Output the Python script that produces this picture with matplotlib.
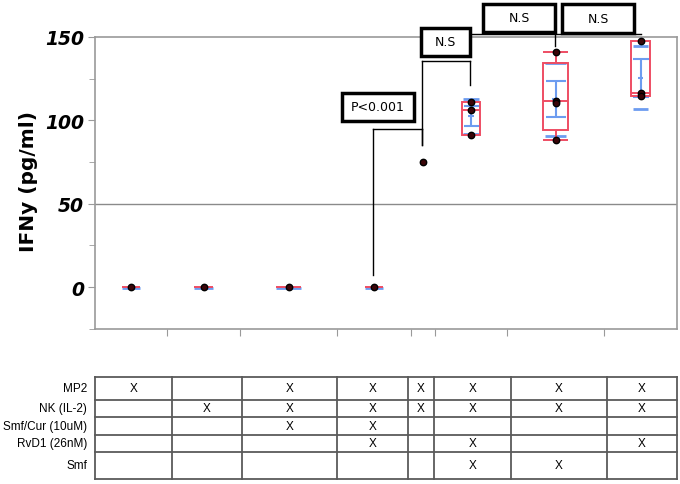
import matplotlib
matplotlib.use("Agg")
import matplotlib.pyplot as plt
from matplotlib.patches import Rectangle
import numpy as np

# ---- data ----
points = [[0], [0], [0], [0], [75],
          [111.2, 106.0, 91.4],
          [141.2, 111.6, 110.4, 88.2],
          [147.8, 116.4, 114.4]]
box_lo = [0, 0, 0, 0, 75, 91.4, 94.4, 114.4]
box_med = [0, 0, 0, 0, 75, 106.0, 111.6, 116.4]
box_hi = [0, 0, 0, 0, 75, 111.0, 134.2, 147.8]
whisk_lo = [None, None, None, None, None, None, 88.2, None]
whisk_hi = [None, None, None, None, None, None, 141.2, None]
means = [0, 0, 0, 0, 75, 102.6, 112.6, 125.6]
sds = [0, 0, 0, 0, 0, 10.5, 22.0, 18.8]
sems = [0, 0, 0, 0, 0, 6.1, 10.8, 11.3]

row_labels = ["MP2", "NK (IL-2)", "Smf/Cur (10uM)", "RvD1 (26nM)", "Smf"]
marks = [[1, 0, 1, 1, 1, 1, 1, 1],
         [0, 1, 1, 1, 1, 1, 1, 1],
         [0, 0, 1, 1, 0, 0, 0, 0],
         [0, 0, 0, 1, 0, 1, 0, 1],
         [0, 0, 0, 0, 0, 1, 1, 0]]

# comparison brackets: (left group, right group, top y, left end, right end)
brackets = [(3, 4, 94.8, 7.2, 85.2),
            (4, 5, 135.6, 85.2, 121.2),
            (5, 7, 151.8, None, None)]

# ---- layout (pixel-like units) ----
col_widths = [72, 73, 97, 74, 24, 72, 97, 73]
edges = np.concatenate([[0], np.cumsum(col_widths)])
centers = (edges[:-1] + edges[1:]) / 2
table_widths = [77, 70, 95, 71, 26, 77, 96, 70]
tedges = np.concatenate([[0], np.cumsum(table_widths)])
tcenters = (tedges[:-1] + tedges[1:]) / 2
row_heights = [23, 17, 18, 17, 27]

RED = "#ee4d63"
BLUE = "#6d9cf0"
GRAY = "#9a9a9a"

fig = plt.figure(figsize=(6.8, 4.85), dpi=100)
ax = fig.add_axes([95 / 680, 155 / 485, 582 / 680, 292 / 485])

for i, c in enumerate(centers):
    bw = 0.25 * col_widths[i]
    # blue sd lines + sem error bar
    if sds[i] > 0:
        ax.hlines([means[i] - sds[i], means[i] + sds[i]], c - bw * 0.42, c + bw * 0.42,
                  color=BLUE, lw=2, zorder=2)
    else:
        ax.hlines(means[i] - 0.7, c - bw / 2, c + bw / 2, color=BLUE, lw=2, zorder=2)
    if sems[i] > 0:
        ax.errorbar([c], [means[i]], yerr=[sems[i]], color=BLUE, lw=1.5,
                    capsize=bw * 0.3, capthick=1.5, zorder=2)
        ax.hlines(means[i], c - bw * 0.15, c + bw * 0.15, color=BLUE, lw=1.5, zorder=2)
    # red box
    if box_hi[i] > box_lo[i]:
        ax.add_patch(Rectangle((c - bw / 2, box_lo[i]), bw, box_hi[i] - box_lo[i],
                               fill=False, ec=RED, lw=1.4, zorder=3))
    ax.hlines(box_med[i], c - bw / 2, c + bw / 2, color=RED, lw=1.4, zorder=3)
    if whisk_lo[i] is not None:
        ax.vlines(c, whisk_lo[i], box_lo[i], color=RED, lw=1.4, zorder=3)
        ax.vlines(c, box_hi[i], whisk_hi[i], color=RED, lw=1.4, zorder=3)
        ax.hlines([whisk_lo[i], whisk_hi[i]], c - bw / 2, c + bw / 2, color=RED, lw=1.4, zorder=3)
    ax.plot([c] * len(points[i]), points[i], "o", ms=4.6, mfc="#3a0508", mec="black",
            mew=1, zorder=4, clip_on=False)

ax.axhline(50, color="#8a8a8a", lw=1, zorder=1)

ax.set_xlim(edges[0], edges[-1])
ax.set_ylim(-25.2, 150)
ax.set_yticks([0, 50, 100, 150])
ax.set_yticks([-25, 25, 75, 125], minor=True)
ax.set_xticks(edges[1:-1])
ax.set_xticklabels([])
for lab in ax.get_yticklabels():
    lab.set_fontweight("bold")
    lab.set_fontstyle("italic")
    lab.set_fontsize(13.5)
ax.tick_params(axis="y", which="major", length=5, color=GRAY, pad=3)
ax.tick_params(axis="y", which="minor", length=4, color=GRAY)
ax.tick_params(axis="x", length=5, color=GRAY)
for s in ax.spines.values():
    s.set_color(GRAY)
    s.set_linewidth(1.2)

fig.text(28 / 680, 1 - 182 / 485, "IFNy (pg/ml)", rotation=90, ha="center", va="center",
         fontsize=14.5, fontweight="bold")

# brackets
lk = dict(color="black", lw=1, clip_on=False, zorder=5)
for a, b, top, lend, rend in brackets:
    xa, xb = centers[a] - 1, centers[b] - 1
    if b == 7:
        xb = centers[b]
    ax.plot([xa, xb], [top, top], **lk)
    if lend is not None:
        ax.plot([xa, xa], [top, lend], **lk)
    if rend is not None:
        ax.plot([xb, xb], [top, rend], **lk)
ax.plot([centers[6] - 1, centers[6] - 1], [151.8, 144.6], **lk)


def label_box(x0, x1, y0, y1, text):
    ax.add_patch(Rectangle((x0, y0), x1 - x0, y1 - y0, fc="white", ec="black", lw=2.5,
                           clip_on=False, zorder=6))
    ax.text((x0 + x1) / 2, (y0 + y1) / 2, text, ha="center", va="center", fontsize=9,
            zorder=7, clip_on=False)


label_box(247, 319, 99.6, 116.4, "P<0.001")
label_box(326, 375, 138.6, 155.4, "N.S")
label_box(388, 460, 153.0, 169.8, "N.S")
label_box(467, 539, 152.4, 169.8, "N.S")

# ---- table ----
tax = fig.add_axes([95 / 680, 5 / 485, 582 / 680, 102 / 485])
row_edges = np.concatenate([[0], np.cumsum(row_heights)])
tax.set_xlim(tedges[0], tedges[-1])
tax.set_ylim(row_edges[-1], 0)
tax.axis("off")
TC = "#5a5a5a"
for y in row_edges:
    tax.plot([tedges[0], tedges[-1]], [y, y], color=TC, lw=1.3, clip_on=False)
for x in tedges:
    tax.plot([x, x], [0, row_edges[-1]], color=TC, lw=1.3, clip_on=False)
for r, lab in enumerate(row_labels):
    yc = (row_edges[r] + row_edges[r + 1]) / 2
    tax.text(-8, yc, lab, ha="right", va="center", fontsize=8.5,
             family="Liberation Sans", clip_on=False)
    for j, m in enumerate(marks[r]):
        if m:
            tax.text(tcenters[j], yc, "X", ha="center", va="center", fontsize=8.5,
                     family="Liberation Sans")

fig.savefig("out.png", dpi=100)
